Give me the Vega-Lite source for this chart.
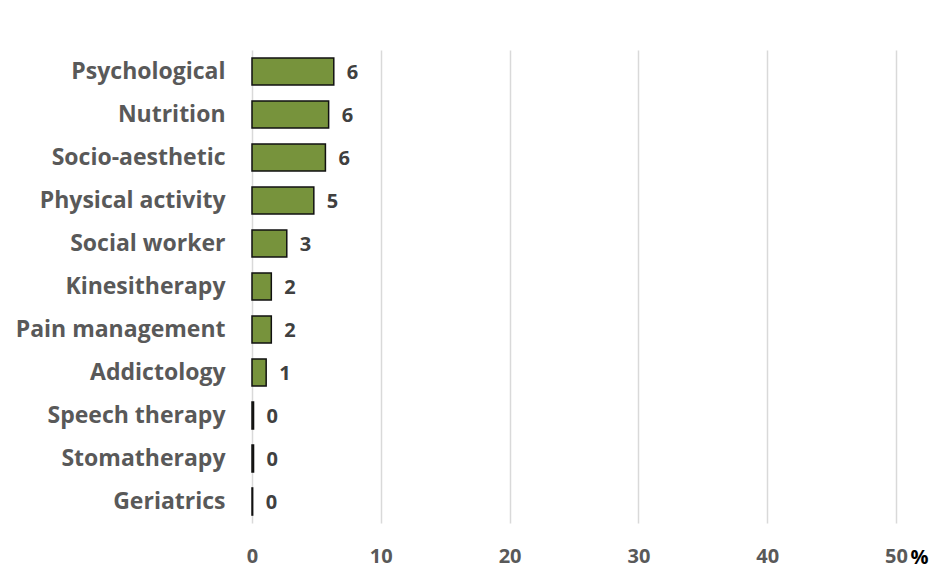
{
  "$schema": "https://vega.github.io/schema/vega-lite/v6.json",
  "autosize": {"type": "none"},
  "padding": {"left": 252, "top": 50, "right": 33, "bottom": 45},
  "width": 644,
  "height": 473,
  "background": "white",
  "data": {
    "values": [
      {"service": "Psychological", "pct": 6.35, "label": "6"},
      {"service": "Nutrition", "pct": 5.95, "label": "6"},
      {"service": "Socio-aesthetic", "pct": 5.7, "label": "6"},
      {"service": "Physical activity", "pct": 4.8, "label": "5"},
      {"service": "Social worker", "pct": 2.7, "label": "3"},
      {"service": "Kinesitherapy", "pct": 1.5, "label": "2"},
      {"service": "Pain management", "pct": 1.5, "label": "2"},
      {"service": "Addictology", "pct": 1.1, "label": "1"},
      {"service": "Speech therapy", "pct": 0.12, "label": "0"},
      {"service": "Stomatherapy", "pct": 0.12, "label": "0"},
      {"service": "Geriatrics", "pct": 0.05, "label": "0"}
    ]
  },
  "encoding": {
    "y": {
      "field": "service",
      "type": "nominal",
      "sort": null,
      "scale": {"paddingInner": 0.37, "paddingOuter": 0.185},
      "axis": {
        "title": null,
        "domain": false,
        "ticks": false,
        "labelFont": "Open Sans",
        "labelFontWeight": "bold",
        "labelFontSize": 23,
        "labelColor": "#595959",
        "labelPadding": 27,
        "labelLimit": 300
      }
    },
    "x": {
      "field": "pct",
      "type": "quantitative",
      "scale": {"domain": [0, 50], "nice": false},
      "axis": {
        "values": [0, 10, 20, 30, 40, 50],
        "title": "%",
        "titleFont": "Open Sans",
        "titleFontWeight": "bold",
        "titleFontSize": 20,
        "titleColor": "#000000",
        "titleAnchor": "end",
        "titleAlign": "left",
        "titleX": 658,
        "titleY": 40,
        "titleBaseline": "alphabetic",
        "domain": false,
        "ticks": false,
        "grid": true,
        "gridColor": "#d9d9d9",
        "gridWidth": 1.5,
        "labelFlush": false,
        "labelFont": "Open Sans",
        "labelFontWeight": "bold",
        "labelFontSize": 20,
        "labelColor": "#595959",
        "labelPadding": 23
      }
    }
  },
  "layer": [
    {
      "mark": {"type": "bar", "color": "#77933c", "stroke": "#111111", "strokeWidth": 1.5}
    },
    {
      "mark": {
        "type": "text",
        "align": "left",
        "baseline": "middle",
        "dx": 13,
        "dy": 1,
        "font": "Open Sans",
        "fontWeight": "bold",
        "fontSize": 20,
        "color": "#404040"
      },
      "encoding": {"text": {"field": "label"}}
    }
  ],
  "config": {"view": {"stroke": null}}
}
